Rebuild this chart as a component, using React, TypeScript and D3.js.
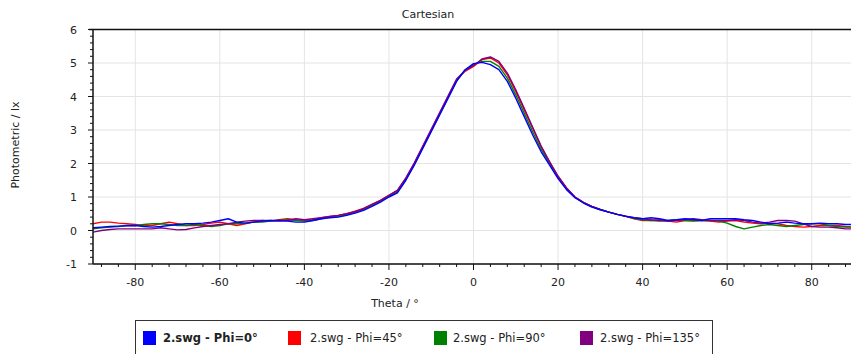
import React from "react";
import * as d3 from "d3";

const theta = [
  -90, -88, -86, -84, -82, -80, -78, -76, -74, -72,
  -70, -68, -66, -64, -62, -60, -58, -56, -54, -52,
  -50, -48, -46, -44, -42, -40, -38, -36, -34, -32,
  -30, -28, -26, -24, -22, -20, -18, -16, -14, -12,
  -10, -8, -6, -4, -2, 0, 2, 4, 6, 8,
  10, 12, 14, 16, 18, 20, 22, 24, 26, 28,
  30, 32, 34, 36, 38, 40, 42, 44, 46, 48,
  50, 52, 54, 56, 58, 60, 62, 64, 66, 68,
  70, 72, 74, 76, 78, 80, 82, 84, 86, 88,
  90,
];

const phi0 = [
  0.08, 0.1, 0.12, 0.13, 0.14, 0.15, 0.12, 0.1, 0.12, 0.15,
  0.18, 0.2, 0.2, 0.22, 0.25, 0.3, 0.35, 0.25, 0.22, 0.25,
  0.28, 0.3, 0.3, 0.28, 0.25, 0.25, 0.3, 0.35, 0.38, 0.4,
  0.45, 0.52, 0.6, 0.72, 0.85, 1.0, 1.12, 1.5, 1.95, 2.45,
  2.95, 3.45, 3.95, 4.45, 4.8, 4.98, 5.02, 4.95, 4.8, 4.45,
  3.95, 3.4, 2.85, 2.35, 1.95, 1.55, 1.22, 0.98, 0.82, 0.7,
  0.62, 0.55, 0.48, 0.43, 0.38, 0.35, 0.38, 0.35, 0.3, 0.32,
  0.35, 0.33, 0.3, 0.35, 0.35, 0.35, 0.35, 0.32, 0.3, 0.25,
  0.2, 0.22, 0.25, 0.22, 0.2, 0.2, 0.22, 0.2, 0.2, 0.18,
  0.18,
];

const phi45 = [
  0.2, 0.25, 0.25, 0.22, 0.2, 0.18, 0.15, 0.15, 0.2, 0.25,
  0.2, 0.15, 0.15, 0.18, 0.22, 0.25, 0.2, 0.15, 0.2, 0.25,
  0.3, 0.28, 0.32, 0.35, 0.32, 0.3, 0.32, 0.38, 0.42, 0.45,
  0.5, 0.58, 0.66, 0.78, 0.9, 1.05, 1.2, 1.55, 2.0, 2.5,
  3.0, 3.5, 4.0, 4.5, 4.75, 4.9, 5.1, 5.15, 5.0, 4.65,
  4.15, 3.6, 3.05, 2.5, 2.05, 1.62, 1.27, 1.0, 0.84, 0.72,
  0.63, 0.55, 0.48, 0.42, 0.35, 0.3, 0.3, 0.32, 0.28, 0.25,
  0.3, 0.3, 0.3, 0.28, 0.25, 0.28, 0.3, 0.25, 0.22, 0.2,
  0.22, 0.2, 0.15, 0.12, 0.1, 0.12, 0.15, 0.15, 0.15, 0.12,
  0.1,
];

const phi90 = [
  0.05, 0.08, 0.1, 0.12, 0.15, 0.15, 0.18, 0.2, 0.2, 0.18,
  0.15, 0.15, 0.18, 0.15, 0.12, 0.15, 0.2, 0.2, 0.22, 0.25,
  0.25, 0.28, 0.3, 0.32, 0.3, 0.28, 0.3, 0.35, 0.4, 0.42,
  0.47, 0.55, 0.63, 0.75, 0.88, 1.02, 1.15, 1.52, 1.97, 2.47,
  2.97, 3.47, 3.97, 4.47, 4.78, 4.95, 5.05, 5.05, 4.9, 4.55,
  4.05, 3.5, 2.95, 2.42, 2.0, 1.58, 1.25, 0.99, 0.83, 0.71,
  0.62, 0.55, 0.48, 0.42, 0.36, 0.32, 0.3, 0.28, 0.3, 0.32,
  0.3, 0.28, 0.3, 0.3, 0.28, 0.22, 0.12, 0.05, 0.1, 0.15,
  0.18, 0.15, 0.12, 0.15, 0.18, 0.2, 0.2, 0.15, 0.12, 0.1,
  0.1,
];

const phi135 = [
  -0.05, 0.0, 0.03, 0.05, 0.05, 0.05, 0.05, 0.05, 0.08, 0.05,
  0.02, 0.03, 0.08, 0.12, 0.15, 0.18, 0.2, 0.25, 0.28, 0.3,
  0.3, 0.3, 0.28, 0.3, 0.35, 0.32, 0.35, 0.38, 0.42, 0.45,
  0.5, 0.56, 0.65, 0.78, 0.9, 1.05, 1.2, 1.57, 2.02, 2.52,
  3.02, 3.52, 4.02, 4.52, 4.78, 4.92, 5.12, 5.18, 5.05, 4.7,
  4.2, 3.65, 3.08, 2.52, 2.05, 1.62, 1.27, 1.0, 0.84, 0.72,
  0.63, 0.55, 0.48, 0.42, 0.38, 0.35, 0.32, 0.3, 0.28, 0.3,
  0.33, 0.35, 0.32, 0.3, 0.3, 0.3, 0.32, 0.3, 0.25, 0.22,
  0.25, 0.3, 0.3, 0.28, 0.2, 0.12, 0.1, 0.1, 0.08, 0.05,
  0.05,
];

const seriesNames = ["2.swg - Phi=0°", "2.swg - Phi=45°", "2.swg - Phi=90°", "2.swg - Phi=135°"];
const seriesColors = ["#0000ff", "#ff0000", "#008000", "#800080"];
const seriesValues = [phi0, phi45, phi90, phi135];
const xTicks = [-80, -60, -40, -20, 0, 20, 40, 60, 80];
const yTicks = [-1, 0, 1, 2, 3, 4, 5, 6];

const W = 851;
const H = 354;
const FONT = "'DejaVu Sans', sans-serif";

export default function App() {
  const left = 93;
  const top = 29.5;
  const bottom = 264;
  const x = d3.scaleLinear().domain([-90, 90]).range([left, 854]);
  const y = d3.scaleLinear().domain([-1, 6]).range([bottom, top]);

  const xMinor = d3.range(-88, 91, 4).filter((v) => v % 20 !== 0);
  const yMinor = d3.range(-1, 6.001, 0.2).map((v) => Math.round(v * 10) / 10).filter((v) => Math.abs(v - Math.round(v)) > 1e-6);

  const line = (vals: number[]) =>
    d3
      .line<number>()
      .x((_, i) => x(theta[i]))
      .y((d) => y(d))
      .curve(d3.curveLinear)(vals) || "";

  const drawOrder = [1, 2, 3, 0];

  const legendItems = [
    { sq: 143, tx: 163 },
    { sq: 288, tx: 310 },
    { sq: 434, tx: 453 },
    { sq: 580, tx: 600 },
  ];

  return (
    <svg width={W} height={H} style={{ position: "absolute", left: 0, top: 0, background: "#fff" }}>
      <rect x={0} y={0} width={W} height={H} fill="#fff" />
      {/* title */}
      <text x={428} y={18} textAnchor="middle" fontFamily={FONT} fontSize={11} fill="#222">
        Cartesian
      </text>
      {/* grid */}
      {xTicks.map((t) => (
        <line key={"gx" + t} x1={x(t)} x2={x(t)} y1={top} y2={bottom} stroke="#e4e4e4" strokeWidth={1} />
      ))}
      {yTicks.map((t) => (
        <line key={"gy" + t} x1={left} x2={W} y1={y(t)} y2={y(t)} stroke="#e4e4e4" strokeWidth={1} />
      ))}
      {/* top frame */}
      <line x1={left - 4} x2={W} y1={top} y2={top} stroke="#111" strokeWidth={1.5} />
      <defs>
        <clipPath id="plotclip">
          <rect x={left} y={top} width={W - left} height={bottom - top} />
        </clipPath>
      </defs>
      <g clipPath="url(#plotclip)">
        {drawOrder.map((si) => (
          <path key={si} d={line(seriesValues[si])} fill="none" stroke={seriesColors[si]} strokeWidth={1.4} strokeLinejoin="round" />
        ))}
      </g>
      {/* axes */}
      <line x1={left} x2={left} y1={top} y2={bottom} stroke="#111" strokeWidth={1.5} />
      <line x1={left} x2={W} y1={bottom} y2={bottom} stroke="#111" strokeWidth={1.5} />
      {yTicks.map((t) => (
        <g key={"yt" + t}>
          <line x1={left - 5} x2={left} y1={y(t)} y2={y(t)} stroke="#111" strokeWidth={1} />
          <text x={77} y={y(t) + 4} textAnchor="end" fontFamily={FONT} fontSize={11} fill="#222">
            {t}
          </text>
        </g>
      ))}
      {yMinor.map((t) => (
        <line key={"ym" + t} x1={left - 3} x2={left} y1={y(t)} y2={y(t)} stroke="#111" strokeWidth={1} />
      ))}
      {xTicks.map((t) => (
        <g key={"xt" + t}>
          <line x1={x(t)} x2={x(t)} y1={bottom} y2={bottom + 6} stroke="#111" strokeWidth={1} />
          <text x={x(t)} y={bottom + 22} textAnchor="middle" fontFamily={FONT} fontSize={11} fill="#222">
            {t}
          </text>
        </g>
      ))}
      {xMinor.map((t) => (
        <line key={"xm" + t} x1={x(t)} x2={x(t)} y1={bottom} y2={bottom + 3} stroke="#111" strokeWidth={1} />
      ))}
      {/* axis titles */}
      <text x={395} y={307} textAnchor="middle" fontFamily={FONT} fontSize={11} fill="#222">
        Theta / °
      </text>
      <text
        transform={`translate(19, 145) rotate(-90)`}
        textAnchor="middle"
        fontFamily={FONT}
        fontSize={11}
        fill="#222"
      >
        Photometric / lx
      </text>
      {/* legend */}
      <rect x={135.5} y={320.5} width={577} height={40} fill="#fff" stroke="#333" strokeWidth={1} />
      {seriesNames.map((n, i) => (
        <g key={n}>
          <rect x={legendItems[i].sq} y={331} width={13} height={14} fill={seriesColors[i]} />
          <text
            x={legendItems[i].tx}
            y={342}
            fontFamily={FONT}
            fontSize={11.5}
            fontWeight={i === 0 ? "bold" : "normal"}
            fill="#222"
          >
            {n}
          </text>
        </g>
      ))}
    </svg>
  );
}
